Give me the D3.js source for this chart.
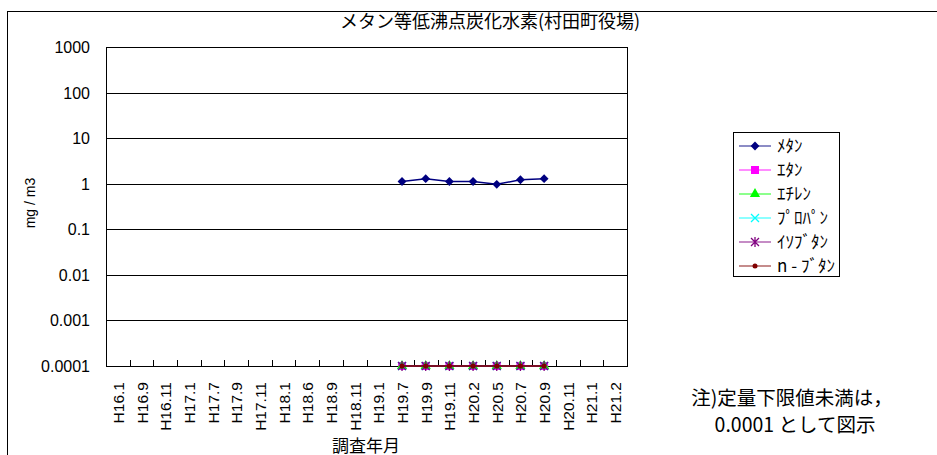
<!DOCTYPE html>
<html><head><meta charset="utf-8">
<script src="https://cdn.jsdelivr.net/npm/d3@7"></script>
<style>
body{margin:0;background:#fff;}
text{font-family:"Liberation Sans",Arial,"Noto Sans CJK JP",sans-serif;}
.jp{font-family:"Noto Sans CJK JP","Liberation Sans",sans-serif;}
</style></head><body>
<svg id="c" width="937" height="455"></svg>
<script>
const categories = ["H16.1","H16.9","H16.11","H17.1","H17.7","H17.9","H17.11","H18.1","H18.6","H18.9","H18.11","H19.1","H19.7","H19.9","H19.11","H20.2","H20.5","H20.7","H20.9","H20.11","H21.1","H21.2"];
const measured = ["H19.7","H19.9","H19.11","H20.2","H20.5","H20.7","H20.9"];
const methane = [1.12, 1.29, 1.12, 1.12, 0.97, 1.22, 1.29];
const ethane = [0.0001,0.0001,0.0001,0.0001,0.0001,0.0001,0.0001];
const ethylene = [0.0001,0.0001,0.0001,0.0001,0.0001,0.0001,0.0001];
const propane = [0.0001,0.0001,0.0001,0.0001,0.0001,0.0001,0.0001];
const isobutane = [0.0001,0.0001,0.0001,0.0001,0.0001,0.0001,0.0001];
const nbutane = [0.0001,0.0001,0.0001,0.0001,0.0001,0.0001,0.0001];
const yTicks = [0.0001,0.001,0.01,0.1,1,10,100,1000];
const yTickLabels = ["0.0001","0.001","0.01","0.1","1","10","100","1000"];
const seriesNames = ["ﾒﾀﾝ","ｴﾀﾝ","ｴﾁﾚﾝ","ﾌﾟﾛﾊﾟﾝ","ｲｿﾌﾞﾀﾝ","n - ﾌﾞﾀﾝ"];

const series = [
  {name:seriesNames[0], values:methane, color:"#000080", lineColor:"#000080", marker:"diamond"},
  {name:seriesNames[1], values:ethane, color:"#ff00ff", lineColor:"#ff00ff", marker:"square"},
  {name:seriesNames[2], values:ethylene, color:"#00ff00", lineColor:"#00ff00", marker:"triangle"},
  {name:seriesNames[3], values:propane, color:"#00ffff", lineColor:"#00ffff", marker:"x"},
  {name:seriesNames[4], values:isobutane, color:"#800080", lineColor:"#800080", marker:"asterisk"},
  {name:seriesNames[5], values:nbutane, color:"#800000", lineColor:"#800000", marker:"circle"}
];

const svg = d3.select("#c");
const L=106, R=627, T=47, B=366;

// outer border
svg.append("rect").attr("x",7.5).attr("y",11.5).attr("width",940).attr("height",460)
  .attr("fill","none").attr("stroke","#000").attr("stroke-width",1);

const x = d3.scaleBand().domain(categories).range([L,R]).paddingInner(0).paddingOuter(0);
const y = d3.scaleLog().domain([0.0001,1000]).range([B,T]);

// gridlines
svg.append("g").selectAll("line").data(yTicks).join("line")
  .attr("x1",L).attr("x2",R).attr("y1",d=>Math.round(y(d))+0.5).attr("y2",d=>Math.round(y(d))+0.5)
  .attr("stroke","#000").attr("stroke-width",1);
// plot border
svg.append("rect").attr("x",L+0.5).attr("y",T+0.5).attr("width",R-L).attr("height",B-T)
  .attr("fill","none").attr("stroke","#000").attr("stroke-width",1);

// y labels
svg.append("g").selectAll("text").data(yTicks).join("text")
  .attr("x",90).attr("y",d=>y(d)+6).attr("text-anchor","end")
  .attr("font-size",16).attr("fill","#000")
  .text((d,i)=>yTickLabels[i]);

// x ticks (pointing inward at category boundaries)
const bounds = categories.map(c=>x(c)).concat([R]);
svg.append("g").selectAll("line").data(bounds.slice(1)).join("line")
  .attr("x1",d=>Math.round(d)+0.5).attr("x2",d=>Math.round(d)+0.5)
  .attr("y1",B).attr("y2",B-6).attr("stroke","#000");

// x labels
svg.append("g").selectAll("text").data(categories).join("text")
  .attr("transform",d=>`translate(${x(d)+x.bandwidth()/2+6},${B+16}) rotate(-90)`)
  .attr("text-anchor","end").attr("font-size",15.5).attr("fill","#000").text(d=>d);

// titles
svg.append("text").attr("class","jp").attr("x",490).attr("y",28).attr("text-anchor","middle")
  .attr("font-size",18).text("メタン等低沸点炭化水素(村田町役場)");
svg.append("text").attr("x",35).attr("y",203).attr("text-anchor","middle")
  .attr("transform","rotate(-90,35,203)").attr("font-size",14).text("mg / m3");
svg.append("text").attr("class","jp").attr("x",366).attr("y",452).attr("text-anchor","middle")
  .attr("font-size",17).text("調査年月");
svg.append("text").attr("class","jp").attr("x",792).attr("y",405).attr("text-anchor","middle")
  .attr("font-size",19.5).text("注)定量下限値未満は，");
svg.append("text").attr("class","jp").attr("x",795).attr("y",432).attr("text-anchor","middle")
  .attr("font-size",19.5).text("0.0001 として図示");

function drawMarker(g, type, color, cx, cy){
  if(type==="diamond"){
    g.append("path").attr("d",d3.symbol(d3.symbolDiamond2,50)()).attr("transform",`translate(${cx},${cy})`).attr("fill",color);
  } else if(type==="square"){
    g.append("rect").attr("x",cx-4).attr("y",cy-4).attr("width",8).attr("height",8).attr("fill",color);
  } else if(type==="triangle"){
    g.append("path").attr("d",d3.symbol(d3.symbolTriangle,45)()).attr("transform",`translate(${cx},${cy})`).attr("fill",color);
  } else if(type==="x"){
    g.append("path").attr("d",`M${cx-4},${cy-4}L${cx+4},${cy+4}M${cx-4},${cy+4}L${cx+4},${cy-4}`).attr("stroke",color).attr("stroke-width",1.3);
  } else if(type==="asterisk"){
    g.append("path").attr("d",`M${cx-4},${cy-4}L${cx+4},${cy+4}M${cx-4},${cy+4}L${cx+4},${cy-4}M${cx},${cy-5}L${cx},${cy+5}`).attr("stroke",color).attr("stroke-width",1.3);
  } else if(type==="circle"){
    g.append("circle").attr("cx",cx).attr("cy",cy).attr("r",2.5).attr("fill",color);
  }
}

const line = d3.line().x((d,i)=>x(measured[i])+x.bandwidth()/2).y(d=>y(d));
series.forEach(s=>{
  const g = svg.append("g");
  g.append("path").datum(s.values).attr("d",line).attr("fill","none")
    .attr("stroke",s.lineColor).attr("stroke-width",1.5);
  s.values.forEach((v,i)=>drawMarker(g,s.marker,s.color,x(measured[i])+x.bandwidth()/2,y(v)));
});

// legend
const lg = svg.append("g");
lg.append("rect").attr("x",733.5).attr("y",132.5).attr("width",106).attr("height",144)
  .attr("fill","#fff").attr("stroke","#000");
series.forEach((s,i)=>{
  const ly = 146 + i*24;
  lg.append("line").attr("x1",739).attr("x2",771).attr("y1",ly).attr("y2",ly)
    .attr("stroke",s.lineColor).attr("stroke-width",1.5).attr("opacity",0.6);
  drawMarker(lg,s.marker,s.color,755,ly);
  lg.append("text").attr("class","jp").attr("x",777).attr("y",ly+6).attr("font-size",17).text(s.name);
});
</script>
</body></html>
